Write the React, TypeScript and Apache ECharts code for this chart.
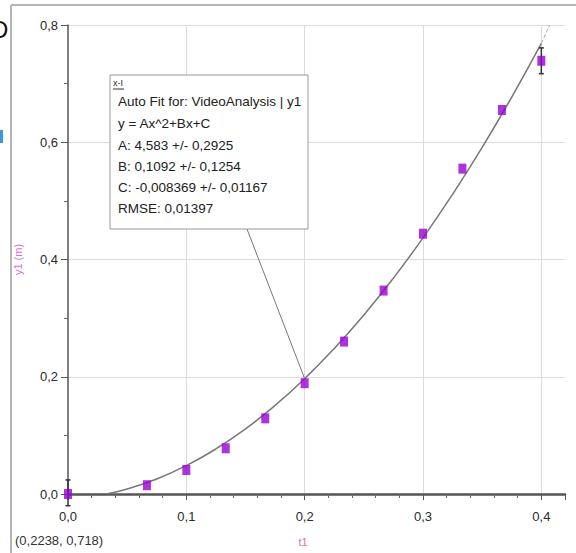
import React, { useEffect, useRef } from "react";
import * as echarts from "echarts";

// measured data points (t in s, y1 in m)
const tValues = [0, 0.0667, 0.1, 0.1333, 0.1667, 0.2, 0.2333, 0.2667, 0.3, 0.3333, 0.3667, 0.4];
const yValues = [0.0, 0.015, 0.041, 0.078, 0.129, 0.189, 0.26, 0.347, 0.444, 0.555, 0.655, 0.739];

// fitted curve
const curveT = [0.0324, 0.05, 0.075, 0.1, 0.125, 0.15, 0.175, 0.2, 0.225, 0.25, 0.275, 0.3, 0.325, 0.35, 0.375, 0.4];
const curveY = [0.0, 0.0086, 0.0256, 0.0484, 0.0769, 0.1111, 0.1511, 0.1968, 0.2482, 0.3054, 0.3683, 0.4369, 0.5112, 0.5913, 0.6771, 0.7686];

// dashed extension of the fit beyond the data
const extT = [0.4, 0.407];
const extY = [0.7686, 0.8];

// error bars: [t, low, high]
const errT = [0, 0.4];
const errLow = [-0.02, 0.717];
const errHigh = [0.024, 0.761];

const fitLines = [
  "Auto Fit for: VideoAnalysis | y1",
  "y = Ax^2+Bx+C",
  "A: 4,583 +/- 0,2925",
  "B: 0,1092 +/- 0,1254",
  "C: -0,008369 +/- 0,01167",
  "RMSE: 0,01397",
];
const cursorText = "(0,2238, 0,718)";
const xName = "t1";
const yName = "y1 (m)";

const FONT = "'Liberation Sans', Arial, sans-serif";

const fmt = (v: number) => {
  if (Math.abs(v * 10 - Math.round(v * 10)) > 1e-6) return "";
  return v.toFixed(1).replace(".", ",");
};

export default function App() {
  const ref = useRef<HTMLDivElement>(null);
  useEffect(() => {
    if (!ref.current) return;
    const chart = echarts.init(ref.current, undefined, { renderer: "svg" });
    const lineY = [128, 150, 171, 192, 213];
    const option: any = {
      animation: false,
      backgroundColor: "#fff",
      grid: { left: 68, right: 11, top: 25, bottom: 59, containLabel: false },
      xAxis: {
        type: "value",
        min: 0,
        max: 0.42,
        interval: 0.1,
        axisLine: { show: true, onZero: false, lineStyle: { color: "#555", width: 2.5 } },
        axisTick: { show: true, length: 6, lineStyle: { color: "#555" } },
        minorTick: { show: true, splitNumber: 5, length: 4, lineStyle: { color: "#666" } },
        axisLabel: { formatter: fmt, color: "#2a2a2a", fontSize: 13, fontFamily: FONT, margin: 16 },
        splitLine: { show: true, showMinLine: false, showMaxLine: false, lineStyle: { color: "#dcdcdc", width: 1 } },
      },
      yAxis: {
        type: "value",
        min: 0,
        max: 0.8,
        interval: 0.2,
        name: yName,
        nameLocation: "middle",
        nameGap: 45,
        nameRotate: 90,
        nameTextStyle: { color: "#d46ee0", fontSize: 11, fontFamily: FONT },
        axisLine: { show: true, onZero: false, lineStyle: { color: "#555", width: 1.5 } },
        axisTick: { show: true, length: 7, lineStyle: { color: "#555" } },
        minorTick: { show: true, splitNumber: 2, length: 4, lineStyle: { color: "#666" } },
        axisLabel: { formatter: fmt, color: "#2a2a2a", fontSize: 13, fontFamily: FONT, margin: 10 },
        splitLine: { show: true, showMinLine: false, lineStyle: { color: "#dcdcdc", width: 1 } },
      },
      series: [
        {
          type: "line",
          data: curveT.map((t, i) => [t, curveY[i]]),
          smooth: true,
          showSymbol: false,
          lineStyle: { color: "#777", width: 1.5 },
          z: 3,
        },
        {
          type: "line",
          data: extT.map((t, i) => [t, extY[i]]),
          showSymbol: false,
          lineStyle: { color: "#aaa", width: 1, type: "dashed" },
          z: 3,
        },
        {
          type: "custom",
          data: errT.map((t, i) => [t, errLow[i], errHigh[i]]),
          renderItem: (params: any, api: any) => {
            const lo = api.coord([api.value(0), api.value(1)]);
            const hi = api.coord([api.value(0), api.value(2)]);
            const c = 2.5;
            return {
              type: "group",
              children: [
                { type: "line", shape: { x1: lo[0], y1: lo[1], x2: hi[0], y2: hi[1] }, style: { stroke: "#333", lineWidth: 1.5 } },
                { type: "line", shape: { x1: lo[0] - c, y1: lo[1], x2: lo[0] + c, y2: lo[1] }, style: { stroke: "#333", lineWidth: 1.5 } },
                { type: "line", shape: { x1: hi[0] - c, y1: hi[1], x2: hi[0] + c, y2: hi[1] }, style: { stroke: "#333", lineWidth: 1.5 } },
              ],
            };
          },
          clip: false,
          z: 4,
        },
        {
          type: "scatter",
          data: tValues.map((t, i) => [t, yValues[i]]),
          symbol: "rect",
          symbolSize: [8, 10],
          itemStyle: { color: "#9800d4" },
          z: 5,
        },
      ],
      graphic: [
        { id: "frameTop", type: "line", shape: { x1: 11, y1: 5, x2: 576, y2: 5 }, style: { stroke: "#b4b4b4", lineWidth: 2 }, z: 50 },
        { id: "frameLeft", type: "line", shape: { x1: 11, y1: 5, x2: 11, y2: 553 }, style: { stroke: "#b4b4b4", lineWidth: 2 }, z: 50 },
        { id: "dLetter", type: "text", x: -9, y: 29, style: { text: "D", fontSize: 24, fontFamily: FONT, fill: "#111", verticalAlign: "middle" }, z: 50 },
        { id: "blueMark", type: "rect", shape: { x: 0, y: 130, width: 3, height: 13 }, style: { fill: "#3a9ad9" }, z: 50 },
        {
          id: "box", type: "rect", shape: { x: 110, y: 75, width: 198, height: 154 },
          style: { fill: "#fff", stroke: "#9a9a9a", lineWidth: 1 }, z: 100,
        },
        { id: "hdr", type: "text", x: 113, y: 83, style: { text: "x-I", fontSize: 9, fontFamily: FONT, fill: "#333", verticalAlign: "middle" }, z: 101 },
        { id: "hdrLine", type: "line", shape: { x1: 113, y1: 89, x2: 124, y2: 89 }, style: { stroke: "#333", lineWidth: 1 }, z: 101 },
        { id: "t0", type: "text", x: 118, y: 101, style: { text: fitLines[0], fontSize: 13.5, fontFamily: FONT, fill: "#222", verticalAlign: "middle" }, z: 101 },
        ...fitLines.slice(1).map((s, i) => ({
          id: "t" + (i + 1), type: "text", x: 118, y: lineY[i] - 5,
          style: { text: s, fontSize: 13.5, fontFamily: FONT, fill: "#222", verticalAlign: "middle" }, z: 101,
        })),
        { id: "cursor", type: "text", x: 15, y: 540, style: { text: cursorText, fontSize: 13, fontFamily: FONT, fill: "#333", verticalAlign: "middle" }, z: 50 },
        { id: "xname", type: "text", x: 303, y: 542, style: { text: xName, fontSize: 11, fontFamily: FONT, fill: "#ea6f9c", align: "center", verticalAlign: "middle" }, z: 50 },
      ],
    };
    chart.setOption(option);
    const idx = curveT.indexOf(0.2);
    const p = chart.convertToPixel({ gridIndex: 0 }, [curveT[idx], curveY[idx]]) as number[];
    chart.setOption({
      graphic: [
        { id: "leader", type: "line", shape: { x1: 247, y1: 229, x2: p[0], y2: p[1] }, style: { stroke: "#777", lineWidth: 1 }, z: 99 },
      ],
    });
    return () => chart.dispose();
  }, []);
  return <div ref={ref} style={{ width: 576, height: 553, position: "absolute", left: 0, top: 0 }} />;
}
